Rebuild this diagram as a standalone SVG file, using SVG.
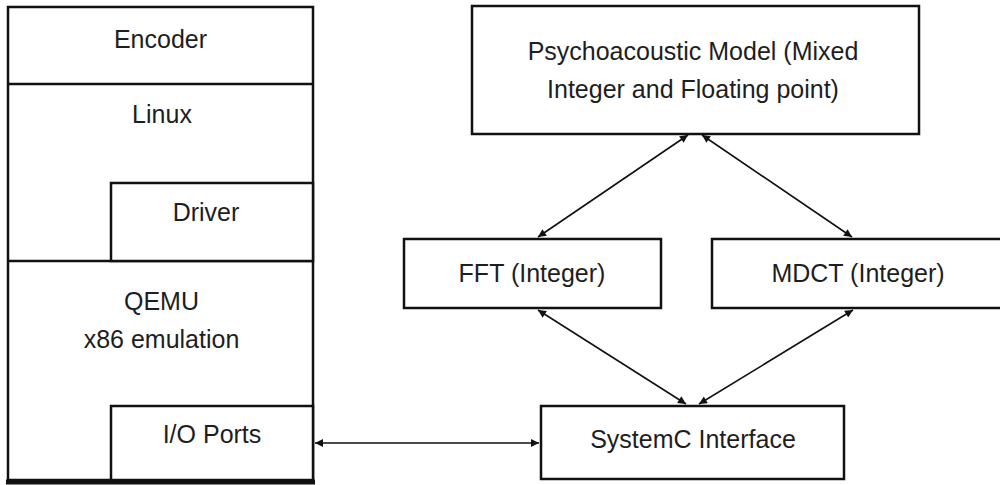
<svg xmlns="http://www.w3.org/2000/svg" width="1000" height="485" viewBox="0 0 1000 485">
  <style>
    .box { fill: #ffffff; stroke: #111111; stroke-width: 2.5; }
    .sep { stroke: #111111; stroke-width: 2.5; fill: none; }
    .lbl { font-family: "Liberation Sans", Arial, sans-serif; font-size: 25px; fill: #1e1e1e; text-anchor: middle; }
    .link { stroke: #111111; stroke-width: 1.6; fill: none; marker-start: url(#head); marker-end: url(#head); }
  </style>
  <defs>
    <marker id="head" viewBox="0 0 10 10" refX="10" refY="5" markerWidth="10" markerHeight="8" markerUnits="userSpaceOnUse" orient="auto-start-reverse">
      <path d="M0,0 L10,5 L0,10 z" fill="#111111"/>
    </marker>
  </defs>

  <rect width="1000" height="485" fill="#ffffff"/>

  <!-- Software / emulation stack -->
  <g id="stack">
    <rect class="box" x="8" y="7" width="305" height="473"/>
    <line class="sep" x1="8" y1="84" x2="313" y2="84"/>
    <line class="sep" x1="8" y1="261" x2="313" y2="261"/>
    <line x1="6" y1="482" x2="315" y2="482" stroke="#111111" stroke-width="5"/>
  </g>
  <g id="encoder">
    <text class="lbl" x="160.5" y="48">Encoder</text>
  </g>
  <g id="linux">
    <text class="lbl" x="162" y="123">Linux</text>
  </g>
  <g id="driver">
    <rect class="box" x="111" y="183" width="202" height="78"/>
    <text class="lbl" x="206" y="221">Driver</text>
  </g>
  <g id="qemu">
    <text class="lbl" x="161.5" y="310">QEMU</text>
    <text class="lbl" x="161.5" y="348">x86 emulation</text>
  </g>
  <g id="io-ports">
    <rect class="box" x="111" y="406" width="202" height="74"/>
    <text class="lbl" x="212" y="443">I/O Ports</text>
  </g>

  <!-- Hardware model blocks -->
  <g id="psychoacoustic">
    <rect class="box" x="472" y="6" width="447" height="128"/>
    <text class="lbl" x="693" y="60">Psychoacoustic Model (Mixed</text>
    <text class="lbl" x="693" y="98">Integer and Floating point)</text>
  </g>
  <g id="fft">
    <rect class="box" x="404" y="239" width="257" height="69"/>
    <text class="lbl" x="532" y="282">FFT (Integer)</text>
  </g>
  <g id="mdct">
    <rect class="box" x="712" y="239" width="300" height="69"/>
    <text class="lbl" x="858" y="282">MDCT (Integer)</text>
  </g>
  <g id="systemc">
    <rect class="box" x="541" y="406" width="303" height="73"/>
    <text class="lbl" x="693" y="448">SystemC Interface</text>
  </g>

  <!-- Bidirectional links -->
  <g id="connectors">
    <line class="link" x1="688" y1="135" x2="538" y2="237"/>
    <line class="link" x1="702" y1="135" x2="852" y2="237"/>
    <line class="link" x1="538" y1="310" x2="686" y2="404"/>
    <line class="link" x1="853" y1="310" x2="699" y2="404"/>
    <line class="link" x1="315" y1="443" x2="539" y2="443"/>
  </g>
</svg>
